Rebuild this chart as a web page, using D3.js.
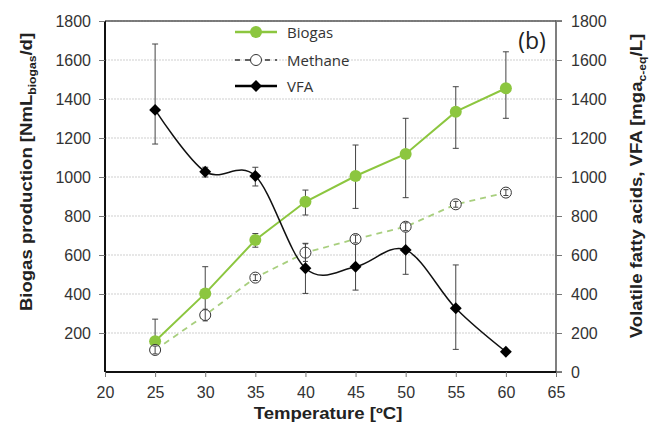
<!DOCTYPE html>
<html><head><meta charset="utf-8">
<script src="https://cdn.jsdelivr.net/npm/d3@7"></script>
<style>
html,body{margin:0;padding:0;background:#fff;}
svg{display:block;}
</style></head>
<body>
<svg id="chart" width="661" height="428"></svg>
<script>
// ---- data ----
const temperatures = [25, 30, 35, 40, 45, 50, 55, 60];
const biogas       = [158, 403, 677, 873, 1005, 1118, 1335, 1455];
const biogasLow    = [110, 290, 640, 805, 839, 894, 1147, 1301];
const biogasHigh   = [271, 540, 710, 933, 1164, 1301, 1463, 1642];
const methane      = [113, 292, 484, 612, 682, 745, 860, 920];
const methaneErr   = [20, 30, 15, 45, 20, 20, 15, 15];
const vfa          = [1344, 1027, 1005, 532, 540, 626, 327, 104];
const vfaLow       = [1169, 1000, 954, 403, 420, 501, 116, 95];
const vfaHigh      = [1682, 1050, 1050, 660, 677, 728, 549, 115];
const xTicks = [20, 25, 30, 35, 40, 45, 50, 55, 60, 65];
const leftTicks = [200, 400, 600, 800, 1000, 1200, 1400, 1600, 1800];
const rightTicks = [0, 200, 400, 600, 800, 1000, 1200, 1400, 1600, 1800];
const seriesNames = ["Biogas", "Methane", "VFA"];

const svg = d3.select("#chart");
const x = d3.scaleLinear().domain([20, 65]).range([105, 556]);
const yL = d3.scaleLinear().domain([0, 1800]).range([372, 21]);
const yR = d3.scaleLinear().domain([0, 1800]).range([372, 21]);

const green = "#8cc63f";
const lightGreen = "#a8cf7e";
const tickFont = "'Liberation Sans', Arial, sans-serif";

// gridlines
svg.append("g").selectAll("line").data(leftTicks).join("line")
  .attr("x1", x(20)).attr("x2", x(65))
  .attr("y1", d => yL(d)).attr("y2", d => yL(d))
  .attr("stroke", "#cfcfcf").attr("stroke-width", 1).attr("stroke-dasharray", "2,1");

// frame: top
svg.append("line").attr("x1", x(20)).attr("x2", x(65)).attr("y1", yL(1800)).attr("y2", yL(1800))
  .attr("stroke", "#555").attr("stroke-width", 1.5);

// axes
const axL = d3.axisLeft(yL).tickValues(leftTicks).tickSize(6).tickPadding(8).tickFormat(d3.format("d"));
const axR = d3.axisRight(yR).tickValues(rightTicks).tickSize(6).tickPadding(9).tickFormat(d3.format("d"));
const axB = d3.axisBottom(x).tickValues(xTicks).tickSize(5).tickPadding(10).tickFormat(d3.format("d"));

function styleAxis(g, w, col) {
  g.select(".domain").attr("stroke", col).attr("stroke-width", w);
  g.selectAll(".tick line").attr("stroke", "#777").attr("stroke-width", 1);
  g.selectAll(".tick text").attr("fill", "#333").style("font-family", tickFont).style("font-size", "16px");
}
const gR = svg.append("g").attr("transform", `translate(${x(65)},0)`).call(axR);
styleAxis(gR, 1.5, "#555");
gR.select(".domain").attr("d", `M6,${yR(0)}H0V${yR(1800)}H6`);
const gL = svg.append("g").attr("transform", `translate(${x(20)},0)`).call(axL);
styleAxis(gL, 2, "#111");
gL.select(".domain").attr("d", `M0,${yL(0)}V${yL(1800)}`);
const gB = svg.append("g").attr("transform", `translate(0,${yL(0)})`).call(axB);
styleAxis(gB, 2, "#111");
gB.select(".domain").attr("d", `M${x(20)},0H${x(65)}`);

// axis titles
const titleFont = "'Liberation Sans', Arial, sans-serif";
const stretch = 1.16;
const lt = svg.append("text").attr("transform", `translate(32,172) rotate(-90) scale(${stretch},1)`)
  .attr("text-anchor", "middle").attr("font-family", titleFont).attr("font-weight", "bold")
  .attr("font-size", 16).attr("fill", "#222");
lt.append("tspan").text("Biogas production [NmL");
lt.append("tspan").attr("dy", 4).attr("font-size", 10.5).text("biogas");
lt.append("tspan").attr("dy", -4).text("/d]");

const rt = svg.append("text").attr("transform", `translate(642,186) rotate(-90) scale(${stretch},1)`)
  .attr("text-anchor", "middle").attr("font-family", titleFont).attr("font-weight", "bold")
  .attr("font-size", 16).attr("fill", "#222");
rt.append("tspan").text("Volatile fatty acids, VFA [mga");
rt.append("tspan").attr("dy", 4).attr("font-size", 10.5).text("c-eq");
rt.append("tspan").attr("dy", -4).text("/L]");

svg.append("text").attr("transform", `translate(328,419) scale(${stretch},1)`).attr("text-anchor", "middle")
  .attr("font-family", titleFont).attr("font-weight", "bold").attr("font-size", 16).attr("fill", "#222")
  .text("Temperature [ºC]");

svg.append("text").attr("x", 532).attr("y", 49).attr("text-anchor", "middle")
  .attr("font-family", "'Open Sans', sans-serif").attr("font-size", 23).attr("fill", "#222").text("(b)");

// error bars
function errorBars(lo, hi, yScale, cap) {
  const g = svg.append("g").attr("stroke", "#444").attr("stroke-width", 1);
  temperatures.forEach((t, i) => {
    g.append("line").attr("x1", x(t)).attr("x2", x(t)).attr("y1", yScale(lo[i])).attr("y2", yScale(hi[i]));
    [lo[i], hi[i]].forEach(v => g.append("line").attr("x1", x(t) - cap).attr("x2", x(t) + cap)
      .attr("y1", yScale(v)).attr("y2", yScale(v)));
  });
}
errorBars(biogasLow, biogasHigh, yL, 3);
errorBars(vfaLow, vfaHigh, yR, 3);

// lines
const lineB = d3.line().x((d, i) => x(temperatures[i])).y(d => yL(d));
const lineV = d3.line().x((d, i) => x(temperatures[i])).y(d => yR(d)).curve(d3.curveCatmullRom.alpha(0));
svg.append("path").attr("d", lineB(methane)).attr("fill", "none").attr("stroke", lightGreen)
  .attr("stroke-width", 1.8).attr("stroke-dasharray", "6,5");
svg.append("path").attr("d", lineB(biogas)).attr("fill", "none").attr("stroke", green).attr("stroke-width", 2);
svg.append("path").attr("d", lineV(vfa)).attr("fill", "none").attr("stroke", "#111").attr("stroke-width", 1.5);

// markers
svg.append("g").selectAll("circle").data(biogas).join("circle")
  .attr("cx", (d, i) => x(temperatures[i])).attr("cy", d => yL(d)).attr("r", 6).attr("fill", green);
const mg = svg.append("g");
mg.selectAll("circle").data(methane).join("circle")
  .attr("cx", (d, i) => x(temperatures[i])).attr("cy", d => yL(d)).attr("r", 5.5)
  .attr("fill", "#fff").attr("stroke", "#333").attr("stroke-width", 1);
methane.forEach((d, i) => {
  const cx = x(temperatures[i]);
  mg.append("line").attr("x1", cx).attr("x2", cx).attr("y1", yL(d - methaneErr[i])).attr("y2", yL(d + methaneErr[i]))
    .attr("stroke", "#444").attr("stroke-width", 1);
  [d - methaneErr[i], d + methaneErr[i]].forEach(v => mg.append("line").attr("x1", cx - 2.5).attr("x2", cx + 2.5)
    .attr("y1", yL(v)).attr("y2", yL(v)).attr("stroke", "#444").attr("stroke-width", 1));
});
const diamond = d3.symbol().type(d3.symbolDiamond2).size(90);
svg.append("g").selectAll("path").data(vfa).join("path")
  .attr("transform", (d, i) => `translate(${x(temperatures[i])},${yR(d)})`)
  .attr("d", diamond).attr("fill", "#000");

// legend
const legY = [32, 60, 86];
const lg = svg.append("g");
lg.append("line").attr("x1", 235).attr("x2", 277).attr("y1", legY[0]).attr("y2", legY[0]).attr("stroke", green).attr("stroke-width", 2.5);
lg.append("circle").attr("cx", 256).attr("cy", legY[0]).attr("r", 6).attr("fill", green);
lg.append("line").attr("x1", 235).attr("x2", 277).attr("y1", legY[1]).attr("y2", legY[1]).attr("stroke", "#333").attr("stroke-width", 1.5).attr("stroke-dasharray", "5,5");
lg.append("circle").attr("cx", 256).attr("cy", legY[1]).attr("r", 5.5).attr("fill", "#fff").attr("stroke", "#333");
lg.append("line").attr("x1", 235).attr("x2", 277).attr("y1", legY[2]).attr("y2", legY[2]).attr("stroke", "#000").attr("stroke-width", 2.5);
lg.append("path").attr("transform", `translate(256,${legY[2]})`).attr("d", diamond).attr("fill", "#000");
lg.selectAll("text").data(seriesNames).join("text")
  .attr("x", 287).attr("y", (d, i) => legY[i] + 5.5)
  .attr("font-family", "'Open Sans', sans-serif").attr("font-size", 15).attr("fill", "#333").text(d => d);
</script>
</body></html>
